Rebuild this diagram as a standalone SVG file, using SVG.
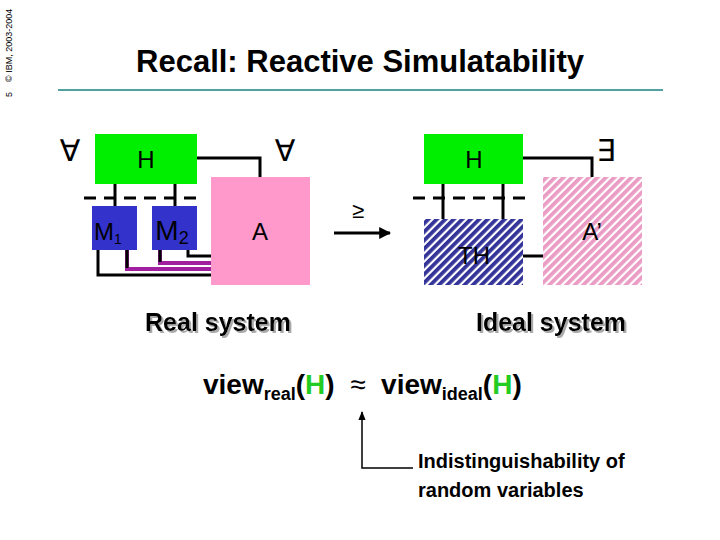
<svg xmlns="http://www.w3.org/2000/svg" width="720" height="540" viewBox="0 0 720 540">
<style>
text{font-family:"Liberation Sans",Arial,sans-serif}
.b{font-weight:bold}
.ln{stroke:#000;stroke-width:3;fill:none}
.pu{stroke:#a020a0;stroke-width:4;fill:none}
.dash{stroke:#000;stroke-width:3;stroke-dasharray:12,8}
.lbl{font-size:24px;text-anchor:middle}
.q{font-size:30px;text-anchor:middle;font-family:"DejaVu Sans",sans-serif}
</style>
<defs>
<pattern id="hb" width="6" height="6" patternUnits="userSpaceOnUse" patternTransform="rotate(45)">
<rect width="6" height="6" fill="#fff"/><rect width="3.8" height="6" fill="#333399"/></pattern>
<pattern id="hp" width="6" height="6" patternUnits="userSpaceOnUse" patternTransform="rotate(45)">
<rect width="6" height="6" fill="#fff"/><rect width="3.8" height="6" fill="#ea9cc4"/></pattern>
<marker id="ar" viewBox="0 0 10 10" refX="9" refY="5" markerWidth="4" markerHeight="4" orient="auto"><path d="M0,0L10,5L0,10z" fill="#000"/></marker>
<marker id="ar2" viewBox="0 0 10 10" refX="9" refY="5" markerWidth="6" markerHeight="6" orient="auto"><path d="M0,1L10,5L0,9z" fill="#000"/></marker>
<filter id="sh"><feDropShadow dx="2" dy="2" stdDeviation="0.5" flood-color="#aaa"/></filter>
</defs>
<rect width="720" height="540" fill="#fff"/>
<text transform="translate(12,97) rotate(-90)" font-size="9" xml:space="preserve">5    © IBM, 2003-2004</text>
<text x="360" y="72" class="b" font-size="31" text-anchor="middle" fill="#000">Recall: Reactive Simulatability</text>
<line x1="58" y1="90" x2="663" y2="90" stroke="#1a8080" stroke-width="1.5"/>
<g id="connectors">
<polyline class="ln" points="197,158 260,158 260,178"/>
<line class="ln" x1="115" y1="184" x2="115" y2="206"/>
<line class="ln" x1="175" y1="184" x2="175" y2="206"/>
<polyline class="ln" points="98,250 98,275 212,275"/>
<polyline class="pu" points="127,250 127,269 212,269"/>
<line class="ln" x1="127" y1="250" x2="127" y2="268"/>
<polyline class="pu" points="160,250 160,263 212,263"/>
<line class="ln" x1="160" y1="250" x2="160" y2="262"/>
<polyline class="ln" points="188,250 188,256 212,256"/>
<line class="dash" x1="84" y1="198" x2="200" y2="198"/>
<polyline class="ln" points="523,158 592,158 592,178"/>
<line class="ln" x1="443" y1="184" x2="443" y2="220"/>
<line class="ln" x1="503" y1="184" x2="503" y2="220"/>
<line class="ln" x1="523" y1="256" x2="543" y2="256"/>
<line class="dash" x1="413" y1="198" x2="530" y2="198"/>
<line class="ln" x1="334" y1="233" x2="390" y2="233" marker-end="url(#ar)"/>
<polyline stroke="#000" stroke-width="1.5" fill="none" points="413,468 362,468 362,412" marker-end="url(#ar2)"/>
</g>
<g id="H1"><rect x="95" y="134" width="102" height="50" fill="#00ee00"/><text x="146" y="168" class="lbl">H</text></g>
<g id="M1"><rect x="92" y="206" width="45" height="44" fill="#3333cc"/><text x="108" y="240" font-size="24" text-anchor="middle">M<tspan font-size="14" dy="4">1</tspan></text></g>
<g id="M2"><rect x="152" y="206" width="45" height="44" fill="#3333cc"/><text x="172" y="240" font-size="28" text-anchor="middle">M<tspan font-size="18" dy="4">2</tspan></text></g>
<g id="A"><rect x="211" y="177" width="99" height="108" fill="#ff99cc"/><text x="260" y="240" class="lbl">A</text></g>
<g id="H2"><rect x="424" y="134" width="99" height="50" fill="#00ee00"/><text x="474" y="168" class="lbl">H</text></g>
<g id="TH"><rect x="424" y="219" width="99" height="66" fill="url(#hb)"/><text x="474" y="264" class="lbl">TH</text></g>
<g id="A2"><rect x="543" y="177" width="99" height="108" fill="url(#hp)"/><text x="592" y="240" class="lbl">A’</text></g>
<text x="70" y="161" class="q">∀</text>
<text x="285" y="161" class="q">∀</text>
<text x="606" y="161" class="q">∃</text>
<text x="358" y="218" font-size="22" text-anchor="middle">≥</text>
<text x="218" y="331" class="b" font-size="25" text-anchor="middle" filter="url(#sh)">Real system</text>
<text x="551" y="331" class="b" font-size="25" text-anchor="middle" filter="url(#sh)">Ideal system</text>
<text x="203" y="394" class="b" font-size="28" xml:space="preserve">view<tspan font-size="18" dy="6">real</tspan><tspan dy="-6">(</tspan><tspan fill="#22cc22">H</tspan>)  <tspan font-weight="normal">≈</tspan>  view<tspan font-size="18" dy="6">ideal</tspan><tspan dy="-6">(</tspan><tspan fill="#22cc22">H</tspan>)</text>
<text x="418" y="468" class="b" font-size="20">Indistinguishability of</text>
<text x="418" y="497" class="b" font-size="20">random variables</text>
</svg>
